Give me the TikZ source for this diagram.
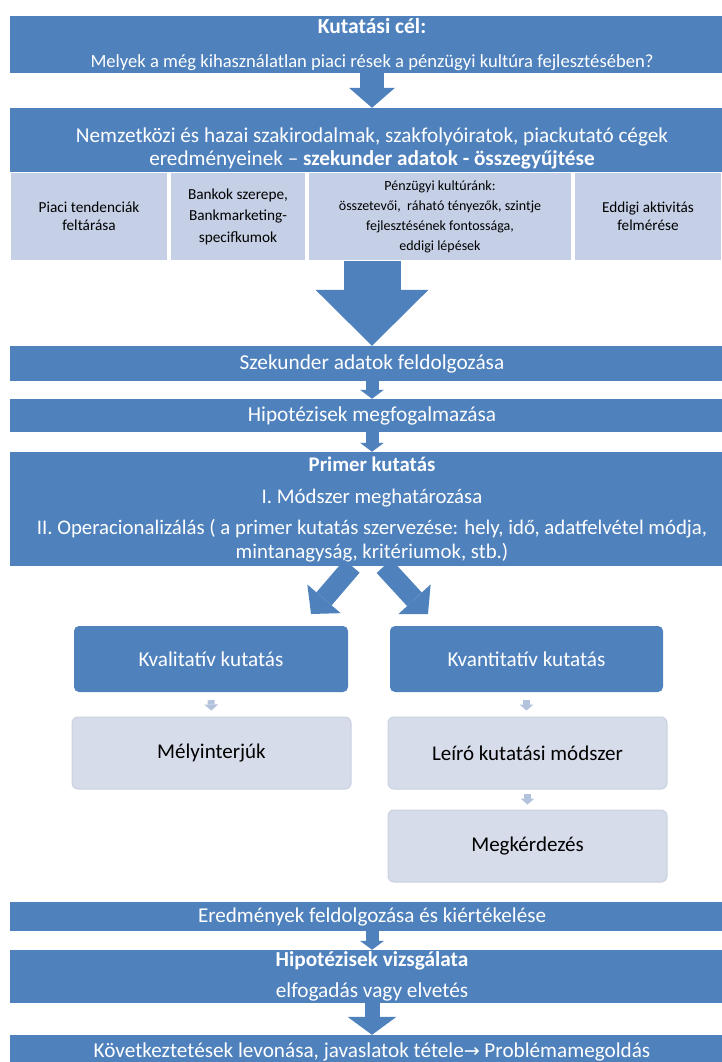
\documentclass[tikz,border=0pt]{standalone}
\usepackage{fontspec}
\setmainfont{Carlito}
\newfontfamily\arrowfont{DejaVu Sans}
\usepackage{tikz}
\usetikzlibrary{arrows.meta}

\definecolor{bandblue}{HTML}{4F81BD}
\definecolor{cellblue}{HTML}{C5D0E6}
\definecolor{paleblue}{HTML}{D6DCE9}
\definecolor{paleedge}{HTML}{C9D1E0}
\definecolor{hintblue}{HTML}{B3C2DD}

\begin{document}
\begin{tikzpicture}[
      x=1pt, y=-1pt,
      band/.style={fill=bandblue,text=white,inner sep=0pt,minimum width=724pt,align=center},
      cell/.style={fill=cellblue,draw=white,line width=1.5pt,inner sep=0pt,minimum height=88pt,align=center},
      stage/.style={fill=bandblue,text=white,rounded corners=5pt,inner sep=0pt,minimum height=66pt,font=\fontsize{21.2}{24}\selectfont},
      method/.style={fill=paleblue,draw=paleedge,line width=1pt,rounded corners=6pt,inner sep=0pt,minimum width=279pt,minimum height=72pt,font=\fontsize{21}{24}\selectfont},
      flow/.style n args={3}{draw=bandblue,line width=#1,-{Triangle[width=#2,length=#3,line width=0pt]}},
      hint/.style={draw=hintblue,line width=7pt,-{Triangle[width=14pt,length=6pt,line width=0pt]}}
    ]
    \useasboundingbox (0,0) rectangle (721,1062);
    % Draw the main bands.
    \node[band,minimum height=57pt,font=\fontsize{18.6}{34}\selectfont] (cel) at (372,44.5)
      {\textbf{\fontsize{21.5}{34}\selectfont Kutatási cél:}\\ Melyek a még kihasználatlan piaci rések a pénzügyi kultúra fejlesztésében?};
    \node[band,minimum height=64pt] (lit) at (372,140) {};
    \node[text=white,align=center,inner sep=0pt,font=\fontsize{21.2}{23}\selectfont] (littxt) at (372,148.5)
      {Nemzetközi és hazai szakirodalmak, szakfolyóiratok, piackutató cégek\\ eredményeinek – \textbf{szekunder adatok - összegyűjtése}};
    % Draw the cells under the literature band.
    \node[cell,minimum width=158pt,font=\fontsize{15.3}{18}\selectfont] (piac) at (89,216.5) {Piaci tendenciák\\ feltárása};
    \node[cell,minimum width=136pt,font=\fontsize{15.3}{21.5}\selectfont] (bank) at (238,216.5) {Bankok szerepe,\\ Bankmarketing-\\ specifkumok};
    \node[cell,minimum width=264pt,font=\fontsize{14}{20}\selectfont] (penz) at (440,216.5)
      {Pénzügyi kultúránk:\\ összetevői,~ ráható tényezők, szintje\\ fejlesztésének fontossága,\\ eddigi lépések};
    \node[cell,minimum width=148pt,font=\fontsize{15.2}{18}\selectfont] (eddig) at (648,216.5) {Eddigi aktivitás\\ felmérése};
    \node[band,minimum height=35pt,font=\fontsize{21.3}{24}\selectfont] (szek) at (372,363.5) {Szekunder adatok feldolgozása};
    \node[band,minimum height=33pt,font=\fontsize{21.3}{24}\selectfont] (hip) at (372,415.5) {Hipotézisek megfogalmazása};
    \node[band,minimum height=114pt,font=\fontsize{20.8}{24}\selectfont] (prim) at (372,509)
      {\textbf{Primer kutatás}\\[8pt] I. Módszer meghatározása\\[7pt] II. Operacionalizálás ( a primer kutatás szervezése: hely, idő, adatfelvétel módja,\\ mintanagyság, kritériumok, stb.)};
    % Draw the two research branches.
    \node[stage,minimum width=274pt] (kval) at (211,659) {Kvalitatív kutatás};
    \node[stage,minimum width=273pt] (kvan) at (526.5,659) {Kvantitatív kutatás};
    \node[method] (mely) at (211.5,753) {Mélyinterjúk};
    \node[method] (leiro) at (527.5,753) {Leíró kutatási módszer};
    \node[method] (megk) at (527.5,846) {Megkérdezés};
    \node[band,minimum height=29pt,font=\fontsize{21.1}{24}\selectfont] (ered) at (372,916.5) {Eredmények feldolgozása és kiértékelése};
    \node[band,minimum height=53pt,font=\fontsize{21.3}{31}\selectfont] (vizs) at (372,976.5)
      {\textbf{Hipotézisek vizsgálata}\\ elfogadás vagy elvetés};
    \node[band,minimum height=34pt,font=\fontsize{21.2}{24}\selectfont] (kov) at (372,1052)
      {Következtetések levonása, javaslatok tétele{\arrowfont\fontsize{19}{20}\selectfont →} Problémamegoldás};
    % Draw the arrows.
    \coordinate (kvaltip) at (311,614);
    \coordinate (kvantip) at (428,614);
    \draw[flow={24pt}{46pt}{20pt}] (cel.south) -- (lit.north);
    \draw[flow={57pt}{113pt}{56pt}] (szek.north |- penz.south) -- (szek.north);
    \draw[flow={13pt}{24pt}{9pt}] (szek.south) -- (hip.north);
    \draw[flow={13pt}{24pt}{9pt}] (hip.south) -- (prim.north);
    \draw[flow={20pt}{44pt}{20pt}] ([xshift=-20pt]prim.south) -- (kvaltip);
    \draw[flow={20pt}{44pt}{20pt}] ([xshift=12pt]prim.south) -- (kvantip);
    \draw[hint,shorten <=8pt,shorten >=6pt] (kval.south) -- (mely.north);
    \draw[hint,shorten <=8pt,shorten >=6pt] (kvan.south) -- (kvan.south |- leiro.north);
    \draw[hint,shorten <=4pt,shorten >=5pt] (leiro.south) -- (megk.north);
    \draw[flow={13pt}{24pt}{9pt}] (ered.south) -- (vizs.north);
    \draw[flow={15pt}{49pt}{18pt}] (vizs.south) -- (kov.north);
\end{tikzpicture}
\end{document}
